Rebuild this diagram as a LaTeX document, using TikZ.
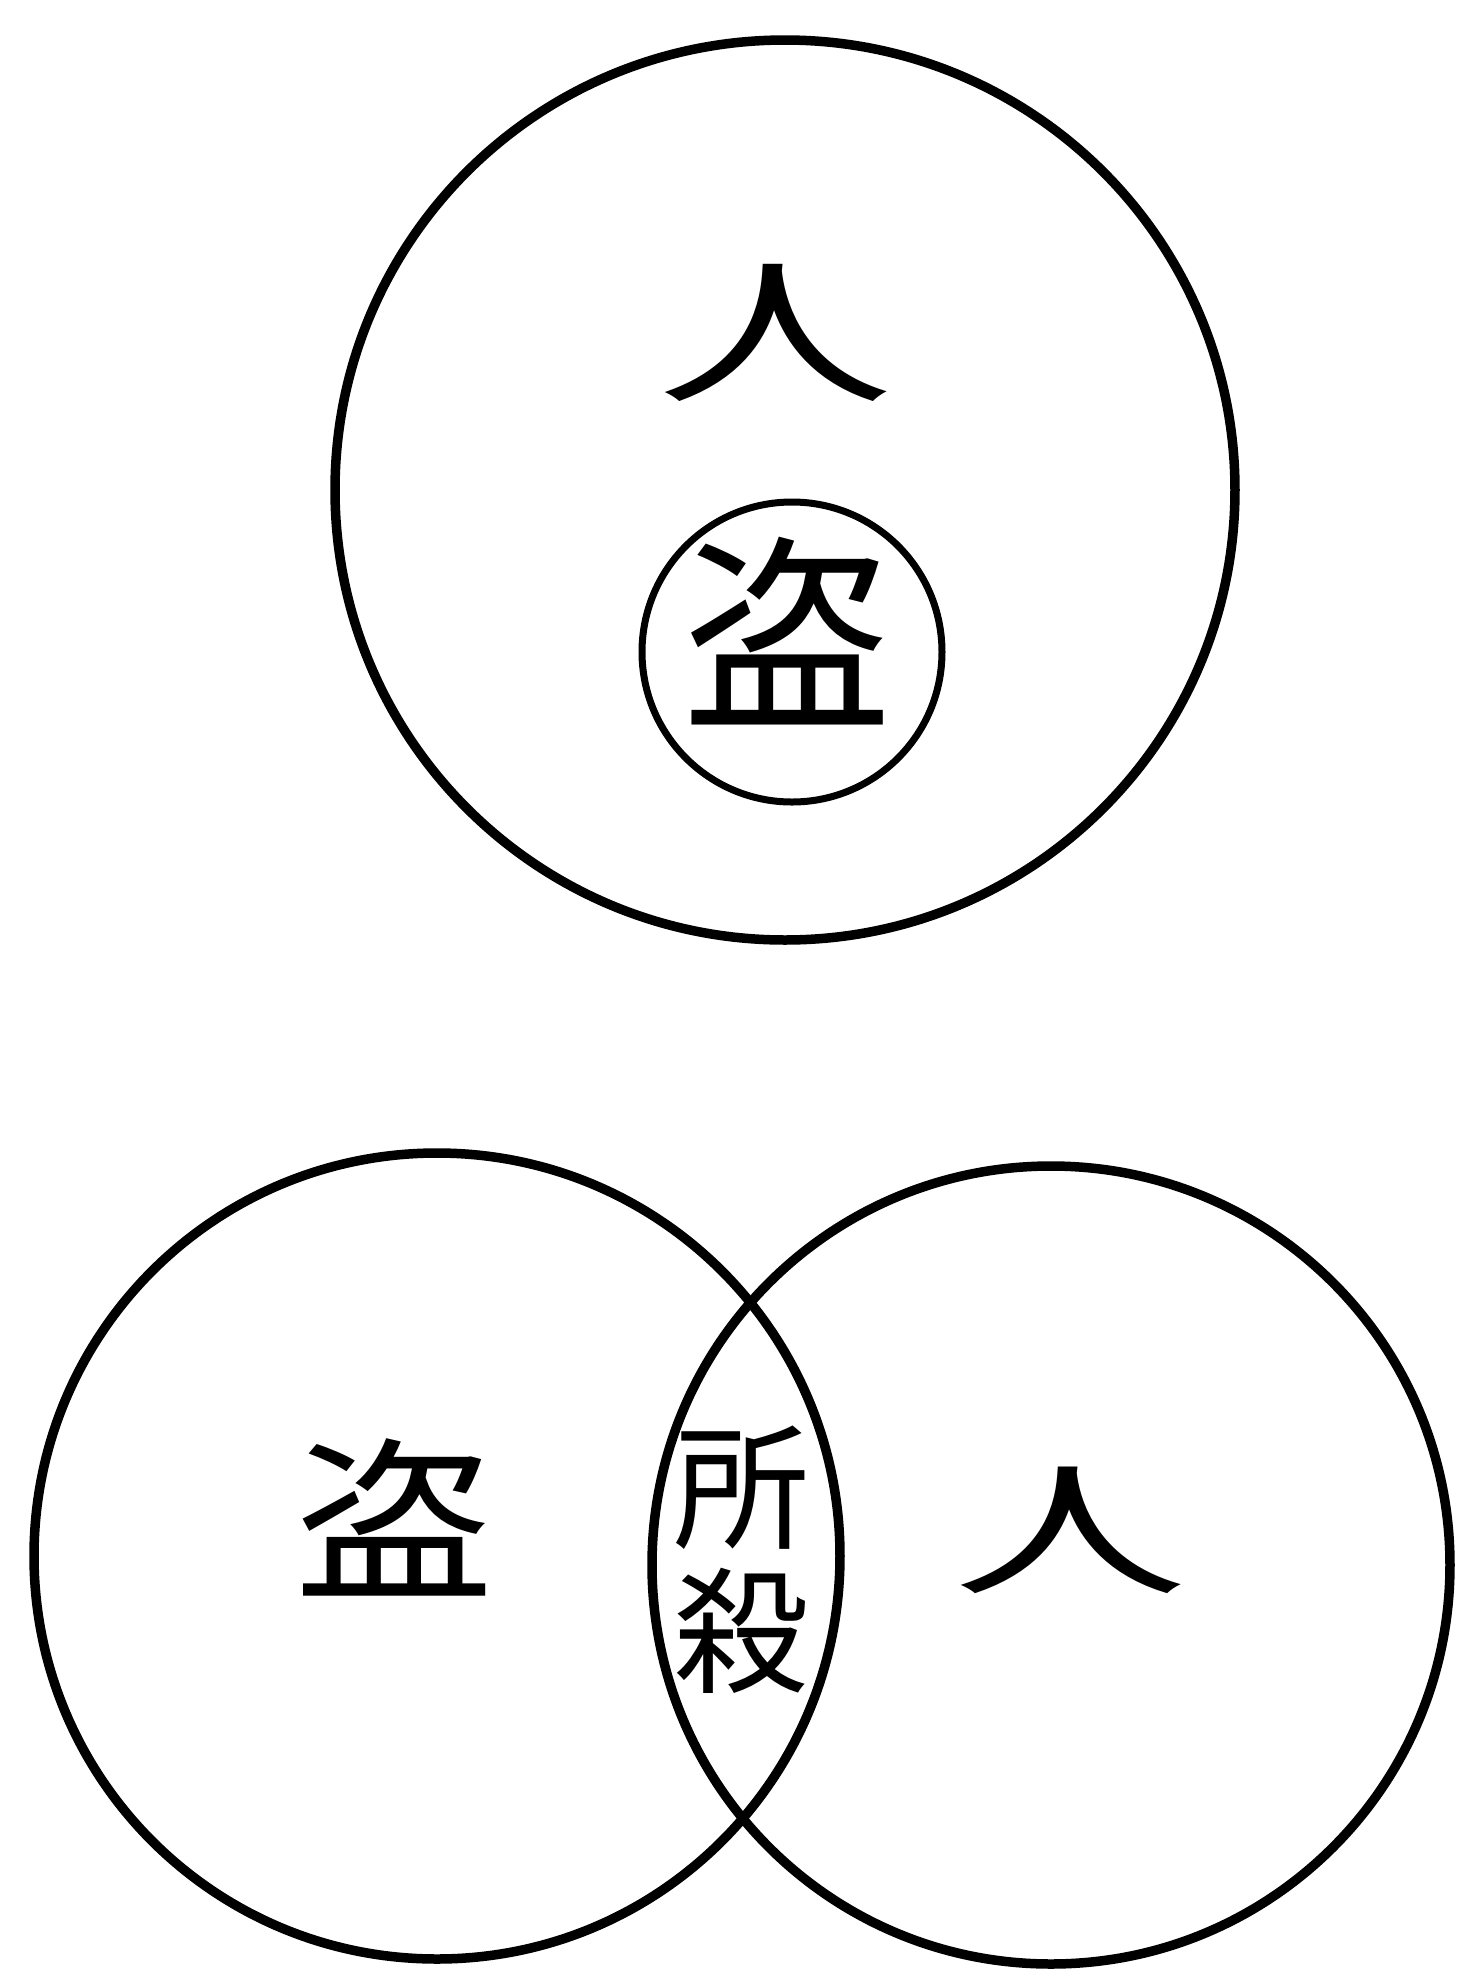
\documentclass[tikz,border=0pt]{standalone}
\usepackage{graphicx}
\usepackage{fontspec}
\newfontfamily\cjkfont{Noto Sans CJK JP}
\begin{document}
\begin{tikzpicture}[x=0.1mm,y=-0.1mm,
  ring/.style={draw=black,line width=0.95mm},
  thinring/.style={draw=black,line width=0.7mm},
  glyph/.style={inner sep=0pt,text=black}]
\useasboundingbox[fill=white] (0,0) rectangle (1459,1969);
% top figure
\draw[ring] (785,490) circle[radius=45mm];
\draw[thinring] (792,652) circle[radius=15mm];
\node[glyph,font=\cjkfont\fontsize{20mm}{22mm}\selectfont] (renTop) at (775,333) {\scalebox{1.18}[0.78]{人}};
\node[glyph,font=\cjkfont\fontsize{21mm}{23mm}\selectfont] (daoTop) at (787,631) {盗};
% bottom figure
\draw[ring] (437,1556) circle[radius=40.3mm];
\draw[ring] (1051,1565) circle[radius=39.9mm];
\node[glyph,font=\cjkfont\fontsize{20mm}{22mm}\selectfont] (daoLeft) at (394,1517) {\scalebox{1}[0.88]{盗}};
\node[glyph,align=center,font=\cjkfont\fontsize{13.6mm}{14.4mm}\selectfont] (suosha) at (741,1560) {所\\殺};
\node[glyph,font=\cjkfont\fontsize{18mm}{20mm}\selectfont] (renRight) at (1070,1530) {\scalebox{1.3}[0.8]{人}};
\end{tikzpicture}
\end{document}
